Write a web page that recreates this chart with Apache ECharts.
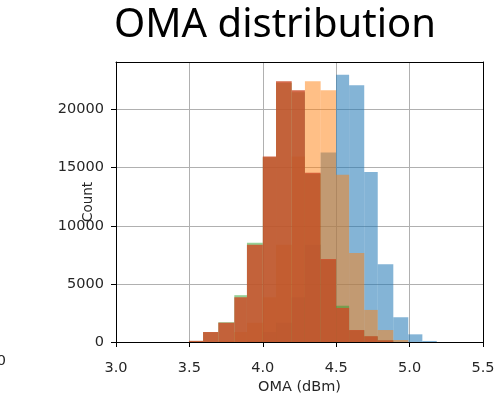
<!DOCTYPE html>
<html>
<head>
<meta charset="utf-8">
<script src="https://cdn.jsdelivr.net/npm/echarts@6/dist/echarts.min.js"></script>
<style>
  html, body { margin: 0; padding: 0; background: #fff; }
  #main { width: 501px; height: 395px; }
</style>
</head>
<body>
<div id="main"></div>
<script>
// bin edges (dBm), one more edge than counts
const brownEdges = [3.497, 3.593, 3.697, 3.806, 3.892, 4.000, 4.090, 4.197, 4.287, 4.394, 4.499, 4.588, 4.691, 4.783, 4.889];
const brownCounts = [100, 860, 1660, 3850, 8360, 15970, 22440, 21660, 14570, 7150, 2930, 1030, 500, 150];
const greenCounts = [90, 840, 1700, 4030, 8540, 15900, 22300, 21500, 14450, 7050, 3120, 990, 470, 130];

const orangeEdges = [3.697, 3.806, 3.892, 4.000, 4.090, 4.197, 4.287, 4.394, 4.499, 4.588, 4.691, 4.783, 4.889, 4.991];
const orangeCounts = [100, 860, 1660, 3850, 8360, 15970, 22440, 21660, 14400, 7670, 2760, 1030, 170];

const blueEdges = [3.892, 4.000, 4.090, 4.197, 4.287, 4.394, 4.499, 4.588, 4.691, 4.783, 4.889, 4.991, 5.087, 5.185];
const blueCounts = [100, 860, 1660, 3850, 8360, 16300, 23000, 22100, 14630, 6700, 2130, 660, 90];

const xTicks = [3.0, 3.5, 4.0, 4.5, 5.0, 5.5];
const yTicks = [0, 5000, 10000, 15000, 20000];

function bins(edges, counts) {
    return counts.map((c, i) => [edges[i], edges[i + 1], c]);
}

function histSeries(name, data, fill, opacity) {
    return {
        name: name,
        type: 'custom',
        data: data,
        encode: {x: [0, 1], y: 2},
        renderItem: function (params, api) {
            const p0 = api.coord([api.value(0), api.value(2)]);
            const p1 = api.coord([api.value(1), 0]);
            return {
                type: 'rect',
                shape: {x: p0[0], y: p0[1], width: p1[0] - p0[0], height: p1[1] - p0[1]},
                style: {fill: fill, opacity: opacity}
            };
        }
    };
}

const labelFont = {fontFamily: 'DejaVu Sans', fontSize: 14.5, color: '#262626'};

const myChart = echarts.init(document.getElementById('main'));
myChart.setOption({
    animation: false,
    backgroundColor: '#fff',
    grid: {left: 116, right: 18, top: 62, bottom: 53, outerBoundsMode: 'none'},
    graphic: [
        {type: 'text', x: 275, y: 26, style: {text: 'OMA distribution', fontFamily: 'Noto Sans', fontSize: 40, fill: '#000', textAlign: 'center', textVerticalAlign: 'middle'}},
        {type: 'text', x: 6, y: 361, style: {text: '5.0', fontFamily: 'DejaVu Sans', fontSize: 14.5, fill: '#262626', textAlign: 'right', textVerticalAlign: 'middle'}}
    ],
    xAxis: [{
        type: 'value',
        min: 3.0,
        max: 5.5,
        interval: 0.5,
        name: 'OMA (dBm)',
        nameLocation: 'middle',
        nameGap: 38,
        nameMoveOverlap: false,
        nameTextStyle: labelFont,
        axisLine: {lineStyle: {color: '#000', width: 1}},
        axisTick: {show: true, length: 5, lineStyle: {color: '#000'}},
        axisLabel: Object.assign({margin: 19, formatter: v => xTicks.includes(v) ? v.toFixed(1) : ''}, labelFont),
        splitLine: {show: true, lineStyle: {color: '#b0b0b0', width: 1}}
    }, {
        type: 'value', position: 'top', min: 3.0, max: 5.5,
        axisLine: {show: true, onZero: false, lineStyle: {color: '#000', width: 1}},
        axisTick: {show: false}, axisLabel: {show: false}, splitLine: {show: false}
    }],
    yAxis: [{
        type: 'value',
        min: 0,
        max: 24100,
        interval: 5000,
        name: 'Count',
        nameLocation: 'middle',
        nameGap: 21,
        nameMoveOverlap: false,
        nameTextStyle: Object.assign({}, labelFont, {fontSize: 13.5}),
        axisLine: {show: true, lineStyle: {color: '#000', width: 1}},
        axisTick: {show: true, length: 5, customValues: yTicks, lineStyle: {color: '#000'}},
        axisLabel: Object.assign({margin: 12, customValues: yTicks, formatter: v => String(v)}, labelFont),
        splitLine: {show: true, lineStyle: {color: '#b0b0b0', width: 1}}
    }, {
        type: 'value', position: 'right', min: 0, max: 24100,
        axisLine: {show: true, onZero: false, lineStyle: {color: '#000', width: 1}},
        axisTick: {show: false}, axisLabel: {show: false}, splitLine: {show: false}
    }],
    series: [
        histSeries('blue', bins(blueEdges, blueCounts), '#1f77b4', 0.55),
        histSeries('orange', bins(orangeEdges, orangeCounts), '#ff7f0e', 0.5),
        histSeries('green', bins(brownEdges, greenCounts), '#2ca02c', 0.5),
        histSeries('brown', bins(brownEdges, brownCounts), '#cb4f2a', 0.85)
    ]
});
</script>
</body>
</html>
